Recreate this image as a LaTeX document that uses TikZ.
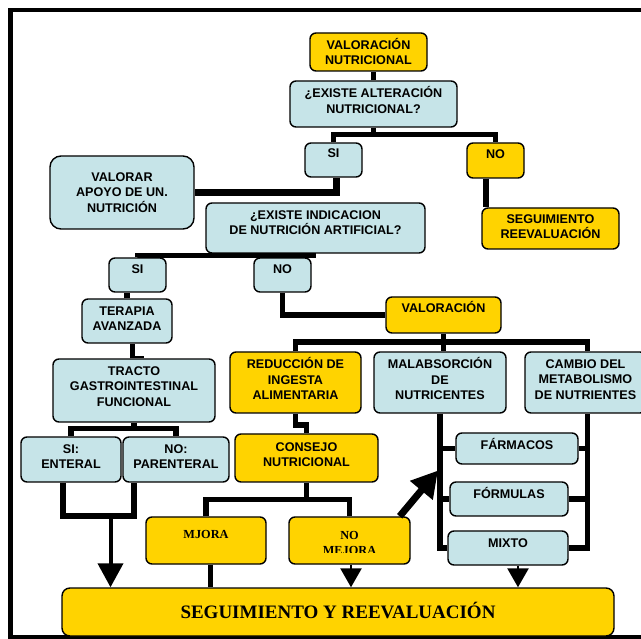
\documentclass[tikz,border=0pt]{standalone}
\usepackage{fontspec}
\setmainfont{Liberation Serif}
\setsansfont{Liberation Sans}
\usetikzlibrary{arrows.meta}
\definecolor{amarillo}{RGB}{255,211,0}
\definecolor{celeste}{RGB}{198,228,232}

\begin{document}
\begin{tikzpicture}[x=1pt,y=-1pt,
		caja/.style={draw,line width=1.4pt,rounded corners=6pt,inner sep=0pt,align=center,
			font=\sffamily\bfseries\fontsize{12.6}{15.2}\selectfont,text depth=6pt},
		azul/.style={caja,fill=celeste},
		amar/.style={caja,fill=amarillo},
		romana/.style={font=\rmfamily\bfseries\fontsize{12.3}{15}\selectfont},
		linea/.style={line width=5.5pt},
		flecha/.style={line width=2.5pt,-{Triangle[width=21pt,length=19pt]}}
	]
	%algoritmo de valoracion nutricional
	\useasboundingbox (0,0) rectangle (641,639);
	\fill [white] (0,0) rectangle (641,639);
	\draw [line width=4.5pt] (10.5,10) rectangle (660,637);

	\node [amar,minimum width=117pt,minimum height=38pt,text depth=1pt] (valnut) at (368.5,52) {VALORACIÓN\\NUTRICIONAL};
	\node [azul,minimum width=167pt,minimum height=46pt,text depth=8pt] (existalt) at (373.5,104) {¿EXISTE ALTERACIÓN\\NUTRICIONAL?};
	\node [azul,minimum width=57pt,minimum height=34pt,text depth=13pt] (si1) at (333.5,160) {SI};
	\node [amar,minimum width=57pt,minimum height=35pt,text depth=13pt] (no1) at (495.5,160.5) {NO};
	\node [azul,minimum width=144pt,minimum height=73pt,text depth=0pt,rounded corners=11pt] (valorar) at (122,192.5) {VALORAR\\APOYO DE UN.\\NUTRICIÓN};
	\node [azul,minimum width=219pt,minimum height=50pt,text depth=10pt] (existind) at (315.5,228) {¿EXISTE INDICACION\\DE NUTRICIÓN ARTIFICIAL?};
	\node [amar,minimum width=137pt,minimum height=41pt,text depth=4pt] (seguim1) at (550.5,228.5) {SEGUIMIENTO\\REEVALUACIÓN};
	\node [azul,minimum width=57pt,minimum height=34pt,text depth=12pt] (si2) at (137.5,275) {SI};
	\node [azul,minimum width=57pt,minimum height=34pt,text depth=12pt] (no2) at (282.5,275) {NO};
	\node [azul,minimum width=90pt,minimum height=44pt,text depth=4pt] (terapia) at (127,321) {TERAPIA\\AVANZADA};
	\node [amar,minimum width=115pt,minimum height=36pt,text depth=16pt] (valor2) at (443.5,315) {VALORACIÓN};
	\node [azul,minimum width=162pt,minimum height=63pt,text depth=8pt] (tracto) at (134,390.5) {TRACTO\\GASTROINTESTINAL\\FUNCIONAL};
	\node [azul,minimum width=100pt,minimum height=45pt] (enteral) at (71,459.5) {SI:\\ENTERAL};
	\node [azul,minimum width=106pt,minimum height=45pt] (parenteral) at (176,459.5) {NO:\\PARENTERAL};
	\node [amar,minimum width=131pt,minimum height=61pt,text depth=8pt] (reduccion) at (295.5,382.5) {REDUCCIÓN DE\\INGESTA\\ALIMENTARIA};
	\node [azul,minimum width=132pt,minimum height=61pt,text depth=8pt] (malabs) at (440,382.5) {MALABSORCIÓN\\DE\\NUTRICENTES};
	\node [azul,minimum width=121pt,minimum height=61pt] (cambio) at (585.5,382.5) {CAMBIO DEL\\METABOLISMO\\DE NUTRIENTES};
	\node [amar,minimum width=143pt,minimum height=48pt] (consejo) at (306.5,458) {CONSEJO\\NUTRICIONAL};
	\node [azul,minimum width=122pt,minimum height=31pt,text depth=9pt] (farmacos) at (517,448.5) {FÁRMACOS};
	\node [azul,minimum width=118pt,minimum height=34pt,text depth=12pt] (formulas) at (509,499) {FÓRMULAS};
	\node [azul,minimum width=120pt,minimum height=34pt,text depth=10pt] (mixto) at (508,548) {MIXTO};
	\node [amar,romana,minimum width=120pt,minimum height=47pt,text depth=12pt] (mjora) at (206,540.5) {MJORA};
	\node [amar,minimum width=121pt,minimum height=47pt] (nomejora) at (349.5,540.5) {};
	\begin{scope}
		\clip (290,518) rectangle (409,552.5);
		\node [romana,align=center,inner sep=0pt] (nomejoratxt) at (349.5,542.5) {NO\\MEJORA};
	\end{scope}
	\node [amar,minimum width=552pt,minimum height=48pt,text depth=4pt,rounded corners=8pt,
		font=\rmfamily\bfseries\fontsize{19}{22}\selectfont] (seguim2) at (338,612) {SEGUIMIENTO Y REEVALUACIÓN};

	%conectores
	\draw [linea] (existalt.north) -- (existalt.north |- valnut.south);
	\draw [linea] (existalt.south) -- ++(0,8);
	\draw [linea] (si1.north) -- ++(0,-8) -| (no1.north);
	\draw [line width=7pt] ([xshift=2.5pt]si1.south) |- (valorar.east);
	\draw [linea] ([xshift=-9.5pt]no1.south) -- ([xshift=-9.5pt]no1.south |- seguim1.north);
	\draw [linea] (si2.north) |- ([yshift=-2pt]existind.south);
	\draw [linea] (no2.north) -- ++(0,-3);
	\draw [linea] (terapia.north) -- (terapia.north |- si2.south);
	\draw [linea] (no2.south) |- (valor2.west);
	\draw [linea] (valor2.south) -- (valor2.south |- malabs.north);
	\draw [linea] (reduccion.north) -- ++(0,-9.5) -| ([xshift=2pt]cambio.north);
	\draw [linea] ([xshift=-1.5pt]tracto.north) -- ([xshift=-1.5pt]tracto.north |- terapia.south);
	\draw [line width=2.5pt] ([yshift=1.2pt]tracto.north) -- ++(10,0);
	\draw [linea] (tracto.south) -- ++(0,8);
	\draw [linea] (enteral.north) -- ++(0,-8) -| (parenteral.north);
	\draw [linea] ([xshift=-8pt]enteral.south) -- ++(0,33.5) -| ([xshift=-42pt]parenteral.south);
	\coordinate (ubajo) at (110.5,515.5);
	\draw [line width=4pt,-{Triangle[width=25pt,length=24pt]}] (ubajo) -- (ubajo |- seguim2.north);
	\draw [linea] (reduccion.south) -- ++(0,11.5) -| (consejo.north);
	\draw [linea] (consejo.south) -- ++(0,18);
	\draw [linea] (mjora.north) -- ++(0,-17) -| (nomejora.north);
	\draw [linea] ([xshift=4.5pt]mjora.south) -- ([xshift=4.5pt]mjora.south |- seguim2.north);
	\draw [flecha] ([xshift=1.5pt]nomejora.south) -- ([xshift=1.5pt]nomejora.south |- seguim2.north);
	\draw [flecha] ([xshift=10pt]mixto.south) -- ([xshift=10pt]mixto.south |- seguim2.north);
	\draw [linea] (malabs.south) |- (mixto.west);
	\draw [linea] (malabs.south |- farmacos.west) -- (farmacos.west);
	\draw [linea] (malabs.south |- formulas.west) -- (formulas.west);
	\draw [linea] ([xshift=2pt]cambio.south) |- (mixto.east);
	\draw [linea] ([xshift=2pt]cambio.south |- farmacos.east) -- (farmacos.east);
	\draw [linea] ([xshift=2pt]cambio.south |- formulas.east) -- (formulas.east);
	\coordinate (golpe) at (438,470.5);
	\draw [line width=7pt,-{Triangle[width=28pt,length=26pt]}] ([xshift=-11pt]nomejora.north east) -- (golpe);
\end{tikzpicture}
\end{document}
